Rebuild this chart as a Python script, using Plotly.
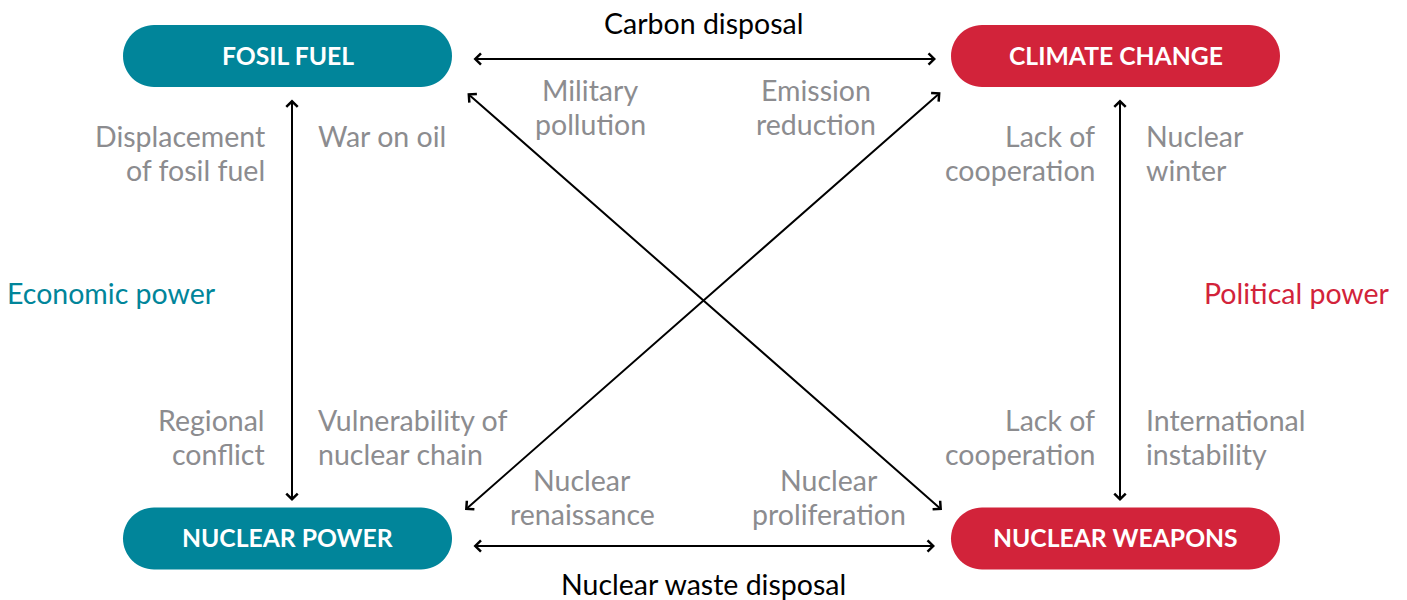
import plotly.graph_objects as go

# ---- data ----
node_names = ["FOSIL FUEL", "CLIMATE CHANGE", "NUCLEAR POWER", "NUCLEAR WEAPONS"]
node_groups = ["economic", "political", "economic", "political"]
edge_titles = ["Carbon disposal", "Nuclear waste disposal"]
edge_labels_top = ["Military<br>pollution", "Emission<br>reduction"]
edge_labels_bottom = ["Nuclear<br>renaissance", "Nuclear<br>proliferation"]
left_labels = ["Displacement<br>of fosil fuel", "War on oil", "Regional<br>conflict", "Vulnerability of<br>nuclear chain"]
right_labels = ["Lack of<br>cooperation", "Nuclear<br>winter", "Lack of<br>cooperation", "International<br>instability"]
group_titles = ["Economic power", "Political power"]

# ---- layout / style ----
W, H = 1407, 600
TEAL = "#01859A"
RED = "#D2233A"
GRAY = "#8C8C8F"
FONT = "Lato"
TXT = 28.5
LINE = 34
colors = {"economic": TEAL, "political": RED}

node_centers = [(287.5, 56), (1115.5, 56), (287.5, 538.5), (1115.5, 538.5)]
half_w, half_h = 164.5, 31

fig = go.Figure()
shapes = []
annotations = []


def pill(cx, cy, hw, hh):
    r = hh
    k = 0.5523 * r
    x1, x2 = cx - hw + r, cx + hw - r
    return (f"M{x1},{cy-hh} L{x2},{cy-hh} "
            f"C{x2+k},{cy-hh} {cx+hw},{cy-k} {cx+hw},{cy} "
            f"C{cx+hw},{cy+k} {x2+k},{cy+hh} {x2},{cy+hh} "
            f"L{x1},{cy+hh} "
            f"C{x1-k},{cy+hh} {cx-hw},{cy+k} {cx-hw},{cy} "
            f"C{cx-hw},{cy-k} {x1-k},{cy-hh} {x1},{cy-hh} Z")


for name, grp, (cx, cy) in zip(node_names, node_groups, node_centers):
    shapes.append(dict(type="path", xref="x", yref="y", path=pill(cx, cy, half_w, half_h),
                       fillcolor=colors[grp], line=dict(width=0), layer="below"))
    annotations.append(dict(x=cx, y=cy - 1, text=f"<b>{name}</b>", showarrow=False,
                            font=dict(family=FONT, size=24.7, color="white"),
                            xanchor="center", yanchor="middle"))

# arrows (double-headed)
arrows = [
    ((472, 59), (936, 59)),
    ((472, 546), (935, 546)),
    ((292, 98), (292, 501)),
    ((1120, 98), (1120, 501)),
    ((466, 92), (942, 510)),
    ((942, 91), (465, 510)),
]
for (x0, y0), (x1, y1) in arrows:
    annotations.append(dict(x=x1, y=y1, ax=x0, ay=y0, xref="x", yref="y", axref="x", ayref="y",
                            showarrow=True, arrowhead=4, startarrowhead=4, arrowside="end+start",
                            arrowsize=1.1, startarrowsize=1.1, arrowwidth=2, arrowcolor="black",
                            text=""))


def label(x, y, text, anchor="center", color=GRAY, size=TXT):
    for i, line in enumerate(text.split("<br>")):
        annotations.append(dict(x=x, y=y + i * LINE, text=line, showarrow=False,
                                xanchor=anchor, yanchor="middle", borderpad=0,
                                font=dict(family=FONT, size=size, color=color)))


label(703.5, 23, edge_titles[0], color="black")
label(703.5, 584, edge_titles[1], color="black")
label(590, 90, edge_labels_top[0])
label(816, 90, edge_labels_top[1])
label(582, 480, edge_labels_bottom[0])
label(829, 480, edge_labels_bottom[1])

label(266, 136, left_labels[0], "right")
label(317, 136, left_labels[1], "left")
label(266, 420, left_labels[2], "right")
label(317, 420, left_labels[3], "left")

label(1096, 136, right_labels[0], "right")
label(1145, 136, right_labels[1], "left")
label(1096, 420, right_labels[2], "right")
label(1145, 420, right_labels[3], "left")

label(6, 293, group_titles[0], "left", color=TEAL)
label(1391, 293, group_titles[1], "right", color=RED)

fig.update_layout(
    width=W, height=H, margin=dict(l=0, r=0, t=0, b=0),
    paper_bgcolor="white", plot_bgcolor="white",
    xaxis=dict(range=[0, W], visible=False, fixedrange=True),
    yaxis=dict(range=[H, 0], visible=False, fixedrange=True),
    shapes=shapes, annotations=annotations, showlegend=False,
)

fig.write_html("out.html", config={"displayModeBar": False},
               post_script="document.body.style.margin='0';")
